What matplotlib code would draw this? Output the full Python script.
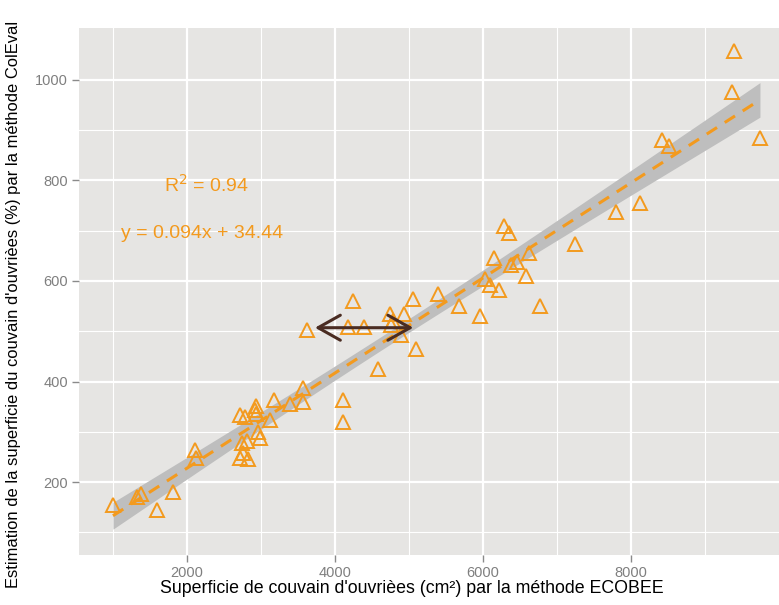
import numpy as np
import matplotlib
matplotlib.use("Agg")
import matplotlib.pyplot as plt

plt.rcParams['font.family'] = ['Liberation Sans', 'DejaVu Sans']

# ECOBEE brood area (cm2) vs ColEval estimate
ecobee = [1000, 1330, 1378, 1600, 1807, 2108, 2117, 2716, 2784, 2919,
          2928, 2935, 2739, 2807, 2963, 2986, 2761, 2716, 2828, 3122,
          3180, 3392, 3563, 3572, 3626, 4112, 4112, 4239, 4180, 4392,
          4577, 4743, 4932, 4788, 4760, 4899, 5049, 5095, 5396, 5680,
          5955, 6027, 6095, 6153, 6220, 6284, 6355, 6464, 6380, 6576,
          6626, 6775, 7240, 7792, 8122, 8423, 8518, 9369, 9392, 9743]
coleval = [155, 171, 177, 144, 180, 263, 247, 333, 329, 343,
           352, 335, 277, 281, 300, 287, 257, 248, 245, 323,
           363, 355, 360, 387, 503, 364, 320, 560, 508, 508,
           425, 534, 534, 520, 512, 493, 564, 464, 574, 550,
           530, 603, 592, 645, 582, 709, 696, 638, 632, 609,
           656, 550, 674, 738, 755, 881, 869, 975, 1058, 884]

r2_text = "R$^2$ = 0.94"
eq_text = "y = 0.094x + 34.44"
r2_pos = (2270, 791)
eq_pos = (2200, 694)
arrow_from = (5058, 507)
arrow_to = (3730, 507)

orange = '#F39A1E'

x = np.array(ecobee, dtype=float)
y = np.array(coleval, dtype=float)
n = len(x)
slope, inter = np.polyfit(x, y, 1)
resid = y - (slope * x + inter)
s = np.sqrt(np.sum(resid ** 2) / (n - 2))
sxx = np.sum((x - x.mean()) ** 2)
xs = np.linspace(x.min(), x.max(), 100)
fit = slope * xs + inter
se = s * np.sqrt(1.0 / n + (xs - x.mean()) ** 2 / sxx)
t = 2.0

fig = plt.figure(figsize=(7.79, 6.05), dpi=100)
ax = fig.add_axes([79 / 779, 50 / 605, 713 / 779, 527 / 605])
ax.set_facecolor('#E6E5E3')

ax.fill_between(xs, fit - t * se, fit + t * se, color='#BEBEBE', lw=0, zorder=2)
ax.plot(xs, fit, color=orange, lw=2.2, ls=(0, (4, 3)), zorder=3)
ax.plot(x, y, ls='none', marker='^', ms=9.5, mfc='none', mec=orange, mew=1.4, zorder=4)

ax.annotate('', xy=arrow_to, xytext=arrow_from,
            arrowprops=dict(arrowstyle='<->,head_length=0.8,head_width=0.45',
                            color='#4A2C22', lw=2.2, mutation_scale=20,
                            shrinkA=0, shrinkB=0), zorder=5)

ax.text(*r2_pos, r2_text, color=orange, fontsize=14, ha='center', va='center')
ax.text(*eq_pos, eq_text, color=orange, fontsize=14, ha='center', va='center')

ax.set_xlim(541, 10176)
ax.set_ylim(55, 1103)
ax.set_xticks([2000, 4000, 6000, 8000])
ax.set_yticks([200, 400, 600, 800, 1000])
ax.set_xticks([1000, 3000, 5000, 7000, 9000], minor=True)
ax.set_yticks([100, 300, 500, 700, 900], minor=True)
ax.grid(which='major', color='white', lw=1.6)
ax.grid(which='minor', color='white', lw=0.8)
ax.set_axisbelow(True)
ax.tick_params(which='major', length=5, width=1, color='#8A8A8A',
               labelcolor='#7F7F7F', labelsize=10.5, pad=3)
ax.tick_params(which='minor', length=0)
for sp in ax.spines.values():
    sp.set_visible(False)

ax.set_xlabel("Superficie de couvain d'ouvrièes (cm²) par la méthode ECOBEE",
              fontsize=12.8)
ax.xaxis.set_label_coords(0.467, -0.048)
ax.set_ylabel("Estimation de la superficie du couvain d'ouvrièes (%) par la méthode ColEval",
              fontsize=11.9)
ax.yaxis.set_label_coords(-0.0813, 0.475)

fig.savefig('out.png', dpi=100)
